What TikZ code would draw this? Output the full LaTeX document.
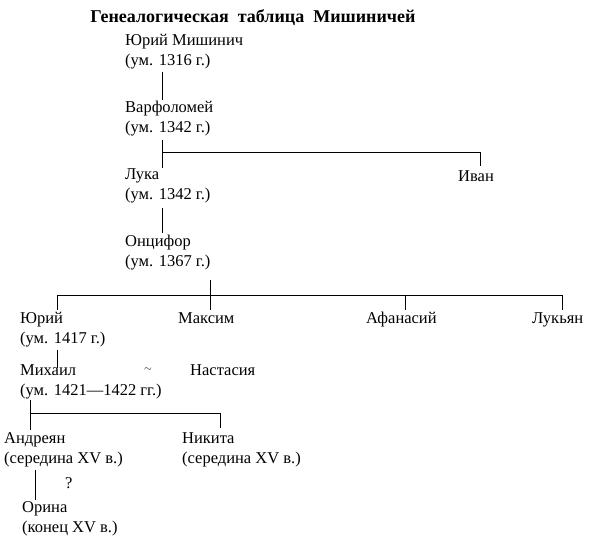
\documentclass[tikz,border=0pt]{standalone}
\usepackage{fontspec}
\setmainfont{Liberation Serif}
\usetikzlibrary{positioning}

\begin{document}
\begin{tikzpicture}[x=1pt,y=-1pt,
    person/.style={anchor=north west,align=left,inner sep=0pt,font=\fontsize{16.5}{20}\selectfont},
    link/.style={line width=0.9pt}]
    \useasboundingbox (0,0) rectangle (600,545);
    \node[font=\bfseries\fontsize{18}{20}\selectfont] (title) at (253,18) {Генеалогическая\enspace таблица\enspace Мишиничей};
    \node[person] (yurm) at (125,34) {Юрий Мишинич\\(ум. 1316 г.)};
    \node[person] (varf) at (125,101) {Варфоломей\\(ум. 1342 г.)};
    \node[person] (luka) at (125,168) {Лука\\(ум. 1342 г.)};
    \node[person] (ivan) at (458,170) {Иван};
    \node[person] (onts) at (125,235) {Онцифор\\(ум. 1367 г.)};
    \node[person] (yur) at (20,312) {Юрий\\(ум. 1417 г.)};
    \node[person] (maks) at (178,312) {Максим};
    \node[person] (afan) at (366,312) {Афанасий};
    \node[person] (luky) at (532,312) {Лукьян};
    \node[person] (mikh) at (20,364) {Михаил\\(ум. 1421—1422 гг.)};
    \node (tilde) at (148,370) {$\sim$};
    \node[person] (nast) at (190,364) {Настасия};
    \node[person] (andr) at (4,432) {Андреян\\(середина XV в.)};
    \node[person] (nik) at (182,432) {Никита\\(середина XV в.)};
    \node[person] (q) at (65,477) {?};
    \node[person] (orin) at (22,501) {Орина\\(конец XV в.)};
    \coordinate (b1) at (162,152);
    \coordinate (b2) at (210,295);
    \coordinate (b3) at (30,413);
    % links
    \draw[link] (162,72) -- (162,100);
    \draw[link] (162,140) -- (162,168);
    \draw[link] (b1) -- (480,152) -- (480,166);
    \draw[link] (162,208) -- (162,233);
    \draw[link] (210,280) -- (b2);
    \draw[link] (57,310) -- (57,295) -- (562,295) -- (562,310);
    \draw[link] (b2) -- (210,310);
    \draw[link] (405,295) -- (405,310);
    \draw[link] (57,350) -- (57,368);
    \draw[link] (30,400) -- (30,430);
    \draw[link] (b3) -- (220,413) -- (220,428);
    \draw[link] (35,470) -- (35,500);
\end{tikzpicture}
\end{document}
